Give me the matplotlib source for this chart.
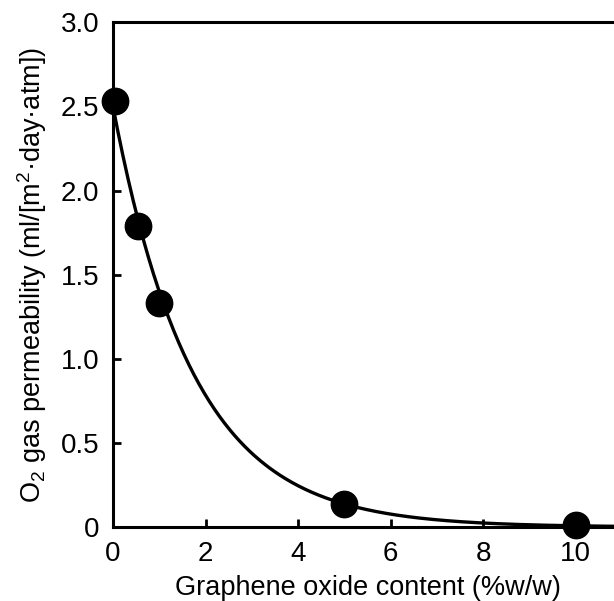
import numpy as np
import matplotlib
matplotlib.use("Agg")
import matplotlib.pyplot as plt

plt.rcParams['font.family'] = ['Liberation Sans', 'DejaVu Sans']
plt.rcParams['mathtext.default'] = 'regular'

# measured points
go_content = [0.05, 0.55, 1.0, 5.0, 10.0]
o2_perm = [2.53, 1.79, 1.33, 0.14, 0.01]

# exponential fit parameters
fit_a = 2.5
fit_b = 0.58

x_ticks = [0, 2, 4, 6, 8, 10]
y_ticks = [0, 0.5, 1.0, 1.5, 2.0, 2.5, 3.0]
y_tick_labels = ['0', '0.5', '1.0', '1.5', '2.0', '2.5', '3.0']

fig = plt.figure(figsize=(6.14, 6.01), dpi=100)
ax = fig.add_axes([0.184, 0.123, 0.829, 0.840])

xs = np.linspace(0, 10.9, 300)
ax.plot(xs, fit_a * np.exp(-fit_b * xs), color='black', lw=2.4, zorder=2, clip_on=False)
ax.plot(go_content, o2_perm, 'o', color='black', markersize=19, zorder=3, clip_on=False)

ax.set_xlim(0, 11)
ax.set_ylim(0, 3.0)
ax.set_xticks(x_ticks)
ax.set_yticks(y_ticks)
ax.set_yticklabels(y_tick_labels)

for side in ['left', 'bottom', 'top']:
    ax.spines[side].set_linewidth(2.2)
ax.spines['right'].set_visible(False)

ax.tick_params(direction='in', length=6, width=2, labelsize=20, pad=10)

ax.set_xlabel('Graphene oxide content (%w/w)', fontsize=19.5, labelpad=6)
ax.set_ylabel('O$_2$ gas permeability (ml/[m$^2$·day·atm])', fontsize=19.5, labelpad=8)

fig.savefig('out.png', dpi=100)
